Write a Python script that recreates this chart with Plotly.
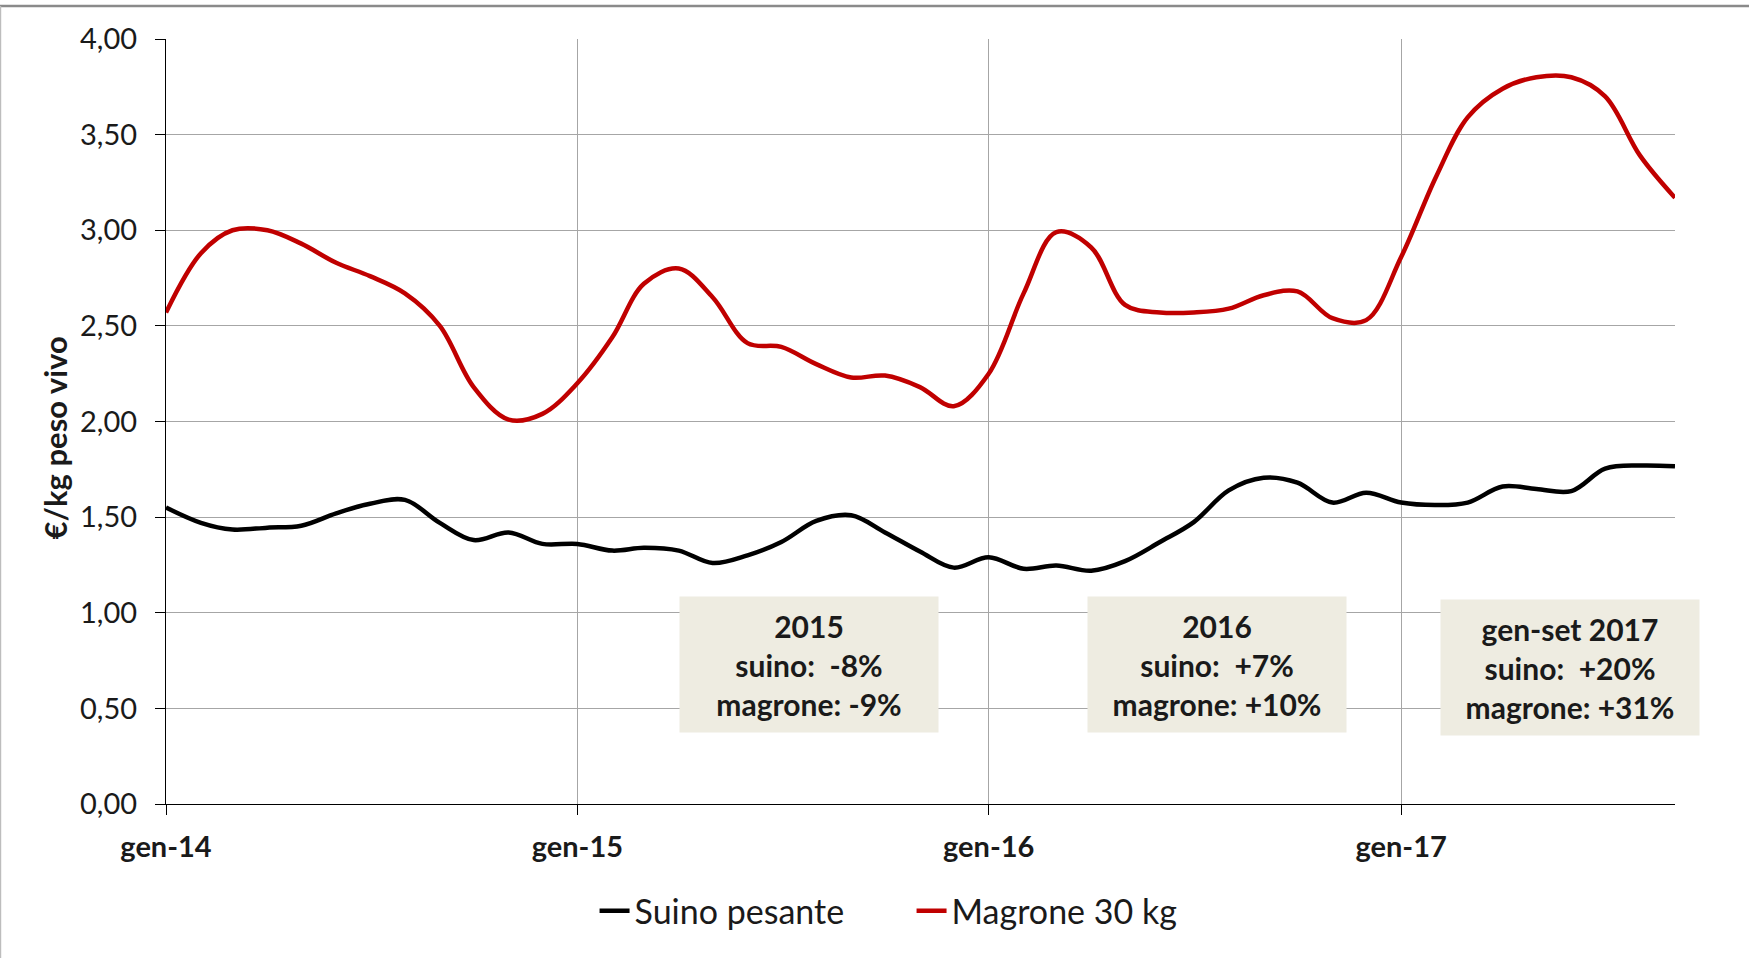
import plotly.graph_objects as go

months = [f"{y}-{m:02d}-01" for y in range(2014, 2018) for m in range(1, 13)][:45]

suino = [1.55, 1.47, 1.435, 1.445, 1.455, 1.52, 1.57, 1.59, 1.47, 1.38, 1.42, 1.36,
         1.36, 1.325, 1.34, 1.325, 1.26, 1.30, 1.37, 1.48, 1.51, 1.42, 1.32, 1.236,
         1.29, 1.23, 1.247, 1.22, 1.27, 1.37, 1.474, 1.64, 1.706, 1.68, 1.576, 1.628,
         1.576, 1.563, 1.576, 1.66, 1.647, 1.636, 1.753, 1.77, 1.766]

magrone = [2.57, 2.88, 3.00, 3.00, 2.93, 2.83, 2.76, 2.67, 2.50, 2.18, 2.01, 2.04,
           2.20, 2.44, 2.72, 2.80, 2.65, 2.41, 2.39, 2.30, 2.23, 2.24, 2.18, 2.08,
           2.25, 2.67, 2.99, 2.91, 2.61, 2.57, 2.57, 2.59, 2.66, 2.68, 2.54, 2.53,
           2.86, 3.28, 3.59, 3.74, 3.80, 3.80, 3.70, 3.39, 3.17]

series_names = ["Suino pesante", "Magrone 30 kg"]
series_colors = ["#000000", "#C00000"]

tick_dates = ["2014-01-01", "2015-01-01", "2016-01-01", "2017-01-01"]
tick_labels = ["gen-14", "gen-15", "gen-16", "gen-17"]

y_title = "€/kg peso vivo"

box_x = ["2015-07-26", "2016-07-22", "2017-05-31"]
box_y = [0.73, 0.73, 0.715]
box_text = [
    ["2015", "suino:\u00a0\u00a0-8%", "magrone: -9%"],
    ["2016", "suino:\u00a0\u00a0+7%", "magrone: +10%"],
    ["gen-set 2017", "suino:\u00a0\u00a0+20%", "magrone: +31%"],
]

FONT = "Lato"

fig = go.Figure()
for name, col, vals in zip(series_names, series_colors, [suino, magrone]):
    fig.add_trace(go.Scatter(
        x=months, y=vals, name=name, mode="lines",
        line=dict(color=col, width=4.5, shape="spline", smoothing=1.0),
    ))

annotations = []
for bx, by, lines in zip(box_x, box_y, box_text):
    annotations.append(dict(
        x=bx, y=by, xref="x", yref="y", showarrow=False,
        text="<br>".join(f"<b>{t}</b>" for t in lines),
        font=dict(family=FONT, size=30, color="#1a1a1a"),
        bgcolor="#EEECE1", width=256, height=133, align="center", valign="middle",
    ))
annotations.append(dict(
    x=-0.0735, y=0.478, xref="paper", yref="paper", showarrow=False,
    text=f"<b>{y_title}</b>", textangle=-90, xanchor="center", yanchor="middle",
    font=dict(family=FONT, size=31, color="#1a1a1a"),
))

fig.update_layout(
    width=1749, height=958,
    margin=dict(l=166, r=74, t=39, b=154),
    paper_bgcolor="white", plot_bgcolor="white",
    separators=",.",
    font=dict(family=FONT, size=29, color="#1a1a1a"),
    showlegend=True,
    legend=dict(orientation="h", x=0.284, xanchor="left", y=-0.14, yanchor="middle",
                font=dict(family=FONT, size=34, color="#1a1a1a"),
                entrywidth=272, entrywidthmode="pixels", tracegroupgap=0),
    annotations=annotations,
    shapes=[
        dict(type="line", xref="paper", yref="paper", x0=-0.12, x1=1.06, y0=1.0431, y1=1.0431,
             line=dict(color="#8A8A8A", width=2.5)),
        dict(type="line", xref="paper", yref="paper", x0=-0.1097, x1=-0.1097, y0=1.0431, y1=-0.21,
             line=dict(color="#BDBDBD", width=1.5)),
    ],
)

fig.update_xaxes(
    type="date", range=["2014-01-01", "2017-09-01"],
    tickvals=tick_dates, ticktext=tick_labels,
    showgrid=True, gridcolor="#A6A6A6", gridwidth=1.2,
    showline=True, linecolor="#000000", linewidth=1.2,
    ticks="outside", ticklen=10, tickcolor="#000000", tickwidth=1.2,
    tickfont=dict(family=FONT, size=29, color="#1a1a1a", weight="bold"),
    ticklabelstandoff=7,
    zeroline=False,
)
fig.update_yaxes(
    range=[0, 4], dtick=0.5, tick0=0, tickformat=".2f",
    showgrid=True, gridcolor="#A6A6A6", gridwidth=1.2,
    showline=True, linecolor="#000000", linewidth=1.2,
    ticks="outside", ticklen=10, tickcolor="#000000", tickwidth=1.2,
    tickfont=dict(family=FONT, size=29, color="#1a1a1a"),
    ticklabelstandoff=12,
    zeroline=False,
)

fig.write_html("out.html", config={"displayModeBar": False},
               post_script="document.body.style.margin='0';")
